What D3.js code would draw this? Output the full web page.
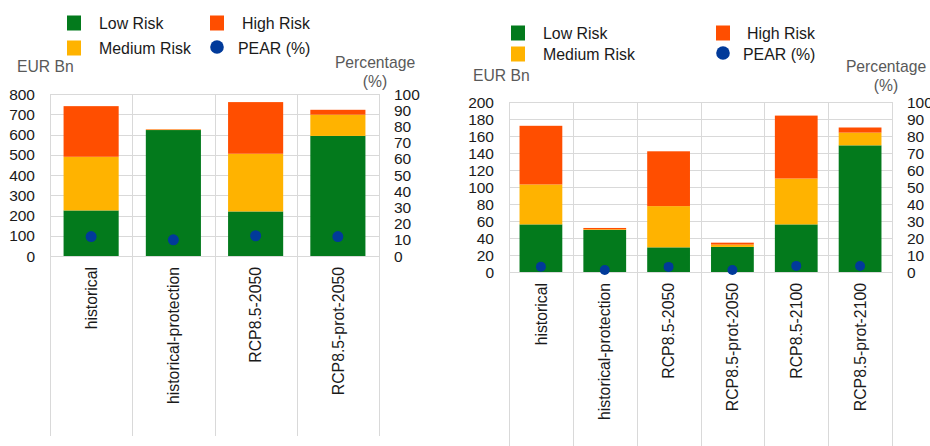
<!DOCTYPE html>
<html>
<head>
<meta charset="utf-8">
<script src="https://cdn.jsdelivr.net/npm/d3@7"></script>
<style>
  html, body { margin: 0; padding: 0; background: #fff; }
  svg { display: block; font-family: "Liberation Sans", Arial, sans-serif; }
</style>
</head>
<body>
<svg id="chart" width="930" height="446"></svg>
<script>
// ---- Data (left panel) ----
const leftCategories = ["historical", "historical-protection", "RCP8.5-2050", "RCP8.5-prot-2050"];
const leftLow    = [225, 622, 220, 593];
const leftMedium = [265, 2, 285, 105];
const leftHigh   = [250, 2, 255, 24];
const leftPear   = [12, 10, 12.5, 12];
const leftAxisTicks  = [0, 100, 200, 300, 400, 500, 600, 700, 800];
const leftPctTicks   = [0, 10, 20, 30, 40, 50, 60, 70, 80, 90, 100];

// ---- Data (right panel) ----
const rightCategories = ["historical", "historical-protection", "RCP8.5-2050", "RCP8.5-prot-2050", "RCP8.5-2100", "RCP8.5-prot-2100"];
const rightLow    = [56, 49.5, 29, 29.5, 56, 149];
const rightMedium = [47, 0.8, 48.5, 2.8, 54, 15];
const rightHigh   = [69, 1.5, 64.5, 2.2, 74, 6];
const rightPear   = [3.1, 1.2, 3, 1.2, 3.6, 3.5];
const rightAxisTicks = [0, 20, 40, 60, 80, 100, 120, 140, 160, 180, 200];
const rightPctTicks  = [0, 10, 20, 30, 40, 50, 60, 70, 80, 90, 100];

const seriesNames = ["Low Risk", "Medium Risk", "High Risk", "PEAR (%)"];
const colors = { low: "#037a1c", medium: "#ffb300", high: "#ff4e00", pear: "#013a9a" };
const gridColor = "#d9d9d9";
const tickColor = "#1a1a1a";
const titleColor = "#595959";

const svg = d3.select("#chart");

function drawPanel(cfg) {
  const g = svg.append("g");
  const x = d3.scaleBand().domain(cfg.categories).range([cfg.x0, cfg.x1]).paddingInner(0.33).paddingOuter(0.165);
  const y = d3.scaleLinear().domain([0, d3.max(cfg.axisTicks)]).range([cfg.yBottom, cfg.yTop]);
  const y2 = d3.scaleLinear().domain([0, 100]).range([cfg.yBottom, cfg.yTop]);

  // horizontal gridlines
  g.selectAll("line.hgrid").data(cfg.axisTicks).enter().append("line")
    .attr("x1", cfg.x0).attr("x2", cfg.x1)
    .attr("y1", d => Math.round(y(d)) + 0.5).attr("y2", d => Math.round(y(d)) + 0.5)
    .attr("stroke", gridColor).attr("stroke-width", 1);

  // vertical category boundaries
  const step = (cfg.x1 - cfg.x0) / cfg.categories.length;
  const bounds = d3.range(cfg.categories.length + 1).map(i => cfg.x0 + i * step);
  g.selectAll("line.vgrid").data(bounds).enter().append("line")
    .attr("x1", d => Math.round(d) + 0.5).attr("x2", d => Math.round(d) + 0.5)
    .attr("y1", cfg.yTop).attr("y2", cfg.vBottom)
    .attr("stroke", gridColor).attr("stroke-width", 1);

  // stacked bars
  const rows = cfg.categories.map((c, i) => ({ cat: c, low: cfg.low[i], medium: cfg.medium[i], high: cfg.high[i] }));
  const stack = d3.stack().keys(["low", "medium", "high"])(rows);
  g.selectAll("g.layer").data(stack).enter().append("g")
    .attr("fill", d => colors[d.key])
    .selectAll("rect").data(d => d).enter().append("rect")
    .attr("x", d => x(d.data.cat))
    .attr("width", x.bandwidth())
    .attr("y", d => y(d[1]))
    .attr("height", d => y(d[0]) - y(d[1]));

  // PEAR dots
  g.selectAll("circle.pear").data(cfg.categories).enter().append("circle")
    .attr("cx", d => x(d) + x.bandwidth() / 2)
    .attr("cy", (d, i) => y2(cfg.pear[i]))
    .attr("r", cfg.dotR)
    .attr("fill", colors.pear);

  // left axis labels
  g.selectAll("text.ly").data(cfg.axisTicks).enter().append("text")
    .attr("x", cfg.x0 - 15).attr("y", d => y(d)).attr("dy", "0.36em")
    .attr("text-anchor", "end").attr("font-size", 15.5).attr("fill", tickColor)
    .text(d => d);

  // right axis labels
  g.selectAll("text.ry").data(cfg.pctTicks).enter().append("text")
    .attr("x", cfg.x1 + 15).attr("y", d => y2(d)).attr("dy", "0.36em")
    .attr("text-anchor", "start").attr("font-size", 15.5).attr("fill", tickColor)
    .text(d => d);

  // category labels (rotated)
  g.selectAll("text.cat").data(cfg.categories).enter().append("text")
    .attr("transform", d => `translate(${x(d) + x.bandwidth() / 2},${cfg.yBottom + 11}) rotate(-90)`)
    .attr("dy", "0.36em")
    .attr("text-anchor", "end").attr("font-size", 15.8).attr("fill", tickColor)
    .text(d => d);

  // axis titles
  g.append("text").attr("x", cfg.eurX).attr("y", cfg.eurY)
    .attr("font-size", 15.7).attr("fill", titleColor).text("EUR Bn");
  g.append("text").attr("x", cfg.pctX).attr("y", cfg.pctY).attr("text-anchor", "middle")
    .attr("font-size", 15.7).attr("fill", titleColor).text("Percentage");
  g.append("text").attr("x", cfg.pctX).attr("y", cfg.pctY + 19).attr("text-anchor", "middle")
    .attr("font-size", 15.7).attr("fill", titleColor).text("(%)");

  // legend
  const L = cfg.legend;
  const items = [
    { name: seriesNames[0], c: colors.low, shape: "rect", sx: L.c1, sy: L.r1, tx: L.t1 },
    { name: seriesNames[1], c: colors.medium, shape: "rect", sx: L.c1, sy: L.r2, tx: L.t1 },
    { name: seriesNames[2], c: colors.high, shape: "rect", sx: L.c2, sy: L.r1, tx: L.t2 },
    { name: seriesNames[3], c: colors.pear, shape: "circle", sx: L.c2, sy: L.r2, tx: L.t2b }
  ];
  items.forEach(it => {
    if (it.shape === "rect") {
      g.append("rect").attr("x", it.sx).attr("y", it.sy - 7.5).attr("width", 14).attr("height", 15).attr("fill", it.c);
    } else {
      g.append("circle").attr("cx", it.sx + 7).attr("cy", it.sy - 1).attr("r", 6.8).attr("fill", it.c);
    }
    g.append("text").attr("x", it.tx).attr("y", it.sy).attr("dy", "0.36em")
      .attr("font-size", 15.9).attr("fill", "#1a1a1a").text(it.name);
  });
}

drawPanel({
  categories: leftCategories, low: leftLow, medium: leftMedium, high: leftHigh, pear: leftPear,
  axisTicks: leftAxisTicks, pctTicks: leftPctTicks,
  x0: 50, x1: 379, yTop: 94, yBottom: 256, vBottom: 436, dotR: 5.5,
  eurX: 17, eurY: 72, pctX: 375, pctY: 68,
  legend: { c1: 67, c2: 210, r1: 23, r2: 48, t1: 99, t2: 242, t2b: 238 }
});

drawPanel({
  categories: rightCategories, low: rightLow, medium: rightMedium, high: rightHigh, pear: rightPear,
  axisTicks: rightAxisTicks, pctTicks: rightPctTicks,
  x0: 509, x1: 892, yTop: 102, yBottom: 272, vBottom: 446, dotR: 5,
  eurX: 473, eurY: 81, pctX: 886, pctY: 72,
  legend: { c1: 511, c2: 716, r1: 33, r2: 54, t1: 543, t2: 747, t2b: 743 }
});
</script>
</body>
</html>
